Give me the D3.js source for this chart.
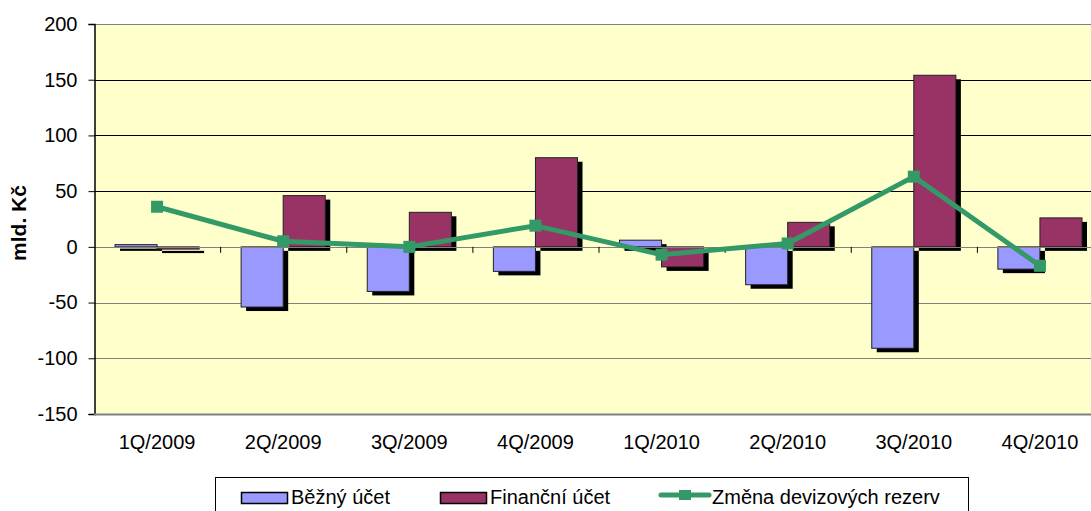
<!DOCTYPE html>
<html>
<head>
<meta charset="utf-8">
<script src="https://cdn.jsdelivr.net/npm/d3@7"></script>
<style>
  body { margin: 0; background: #fff; }
  text { font-family: "Liberation Sans", Arial, sans-serif; }
</style>
</head>
<body>
<div id="chart"></div>
<script>
// data
var quarters = ["1Q/2009", "2Q/2009", "3Q/2009", "4Q/2009", "1Q/2010", "2Q/2010", "3Q/2010", "4Q/2010"];
var bezny = [2, -54, -40, -22, 6, -34, -91, -20];
var financni = [-2, 46, 31, 80, -18, 22, 154, 26];
var zmena = [36, 5, 0, 19, -7, 3, 63, -17];
var yTicks = [-150, -100, -50, 0, 50, 100, 150, 200];
var seriesNames = ["Běžný účet", "Finanční účet", "Změna devizových rezerv"];

var W = 1091, H = 511;
var plot = {left: 94, right: 1103, top: 24, bottom: 414};

var svg = d3.select("#chart")
  .append("svg")
    .attr("width", W)
    .attr("height", H);

var x = d3.scaleBand()
  .domain(quarters)
  .range([plot.left, plot.right]);

var xs = d3.scaleBand()
  .domain([0, 1])
  .range([21, x.bandwidth() - 21]);

var y = d3.scaleLinear()
  .domain([-150, 200])
  .range([plot.bottom, plot.top]);

// plot background
svg.append("rect")
  .attr("x", plot.left).attr("y", plot.top)
  .attr("width", plot.right - plot.left).attr("height", plot.bottom - plot.top)
  .attr("fill", "#ffffcc");

// gridlines
svg.append("g")
  .selectAll("line")
  .data(yTicks)
  .enter()
  .append("line")
    .attr("x1", plot.left).attr("x2", plot.right)
    .attr("y1", function(d) { return Math.round(y(d)) + 0.5; })
    .attr("y2", function(d) { return Math.round(y(d)) + 0.5; })
    .attr("stroke", function(d) { return (d > 0 && d < 200) ? "#000" : "#808080"; })
    .attr("stroke-width", 1);

// bars with shadows
var groups = svg.append("g")
  .selectAll("g")
  .data(quarters)
  .enter()
  .append("g")
    .attr("transform", function(d) { return "translate(" + x(d) + ",0)"; });

var cols = ["#9999ff", "#993366"];
[bezny, financni].forEach(function(vals, k) {
  groups.append("rect")
    .attr("x", xs(k) + 5)
    .attr("y", function(d, i) { return Math.min(y(vals[i]), y(0)) + 4; })
    .attr("width", xs.bandwidth())
    .attr("height", function(d, i) { return Math.abs(y(vals[i]) - y(0)); })
    .attr("fill", "#000");
});
[bezny, financni].forEach(function(vals, k) {
  groups.append("rect")
    .attr("x", xs(k))
    .attr("y", function(d, i) { return Math.min(y(vals[i]), y(0)); })
    .attr("width", xs.bandwidth())
    .attr("height", function(d, i) { return Math.abs(y(vals[i]) - y(0)); })
    .attr("fill", cols[k])
    .attr("stroke", "#222")
    .attr("stroke-width", 1);
});

// zero line on top of bars
svg.append("line")
  .attr("x1", plot.left).attr("x2", plot.right)
  .attr("y1", Math.round(y(0)) + 0.5).attr("y2", Math.round(y(0)) + 0.5)
  .attr("stroke", "#808080");

// category ticks on zero line
svg.append("g")
  .selectAll("line")
  .data(quarters.slice(1))
  .enter()
  .append("line")
    .attr("x1", function(d) { return x(d) + 0.5; })
    .attr("x2", function(d) { return x(d) + 0.5; })
    .attr("y1", y(0)).attr("y2", y(0) + 6)
    .attr("stroke", "#000");

// y axis
var yAxis = svg.append("g")
  .attr("transform", "translate(" + (plot.left + 0.5) + ",0)")
  .call(d3.axisLeft(y).tickValues(yTicks).tickSize(6).tickPadding(11)
    .tickFormat(function(d) { return String(d); }));
yAxis.select(".domain").attr("stroke", "#000").attr("stroke-width", 1.5);
yAxis.selectAll(".tick line").attr("stroke", "#000");
yAxis.selectAll("text")
  .attr("fill", "#000")
  .style("font-size", "20px")
  .style("font-family", "'Liberation Sans', Arial, sans-serif");

// bottom border
svg.append("line")
  .attr("x1", plot.left).attr("x2", plot.right)
  .attr("y1", plot.bottom + 0.5).attr("y2", plot.bottom + 0.5)
  .attr("stroke", "#808080").attr("stroke-width", 2);

// x labels
svg.append("g")
  .selectAll("text")
  .data(quarters)
  .enter()
  .append("text")
    .attr("x", function(d) { return x(d) + x.bandwidth() / 2; })
    .attr("y", 449)
    .attr("text-anchor", "middle")
    .style("font-size", "20px")
    .text(function(d) { return d; });

// y title
svg.append("text")
  .attr("transform", "translate(26,223) rotate(-90)")
  .attr("text-anchor", "middle")
  .style("font-size", "21px")
  .style("font-weight", "bold")
  .text("mld. Kč");

// line series
var line = d3.line()
  .x(function(d, i) { return x(quarters[i]) + x.bandwidth() / 2; })
  .y(function(d) { return y(d); });

svg.append("path")
  .datum(zmena)
  .attr("d", line)
  .attr("fill", "none")
  .attr("stroke", "#339966")
  .attr("stroke-width", 5);

svg.append("g")
  .selectAll("rect")
  .data(zmena)
  .enter()
  .append("rect")
    .attr("x", function(d, i) { return x(quarters[i]) + x.bandwidth() / 2 - 6; })
    .attr("y", function(d) { return y(d) - 6; })
    .attr("width", 12).attr("height", 12)
    .attr("fill", "#339966");

// legend
var lg = svg.append("g");
lg.append("rect")
  .attr("x", 215.5).attr("y", 477.5)
  .attr("width", 753).attr("height", 40)
  .attr("fill", "#fff")
  .attr("stroke", "#000");

var legendX = [241, 440, 659];
[0, 1].forEach(function(k) {
  lg.append("rect")
    .attr("x", legendX[k] + 0.5).attr("y", 492.5)
    .attr("width", 46).attr("height", 11)
    .attr("fill", cols[k])
    .attr("stroke", "#000").attr("stroke-width", 1.5);
});
lg.append("line")
  .attr("x1", legendX[2] + 2).attr("x2", legendX[2] + 50)
  .attr("y1", 495).attr("y2", 495)
  .attr("stroke", "#339966").attr("stroke-width", 5)
  .attr("stroke-linecap", "round");
lg.append("rect")
  .attr("x", legendX[2] + 20).attr("y", 490)
  .attr("width", 12).attr("height", 10)
  .attr("fill", "#339966");

var textX = [291, 490, 712];
seriesNames.forEach(function(s, k) {
  lg.append("text")
    .attr("x", textX[k]).attr("y", 504)
    .style("font-size", "20px")
    .text(s);
});
</script>
</body>
</html>
